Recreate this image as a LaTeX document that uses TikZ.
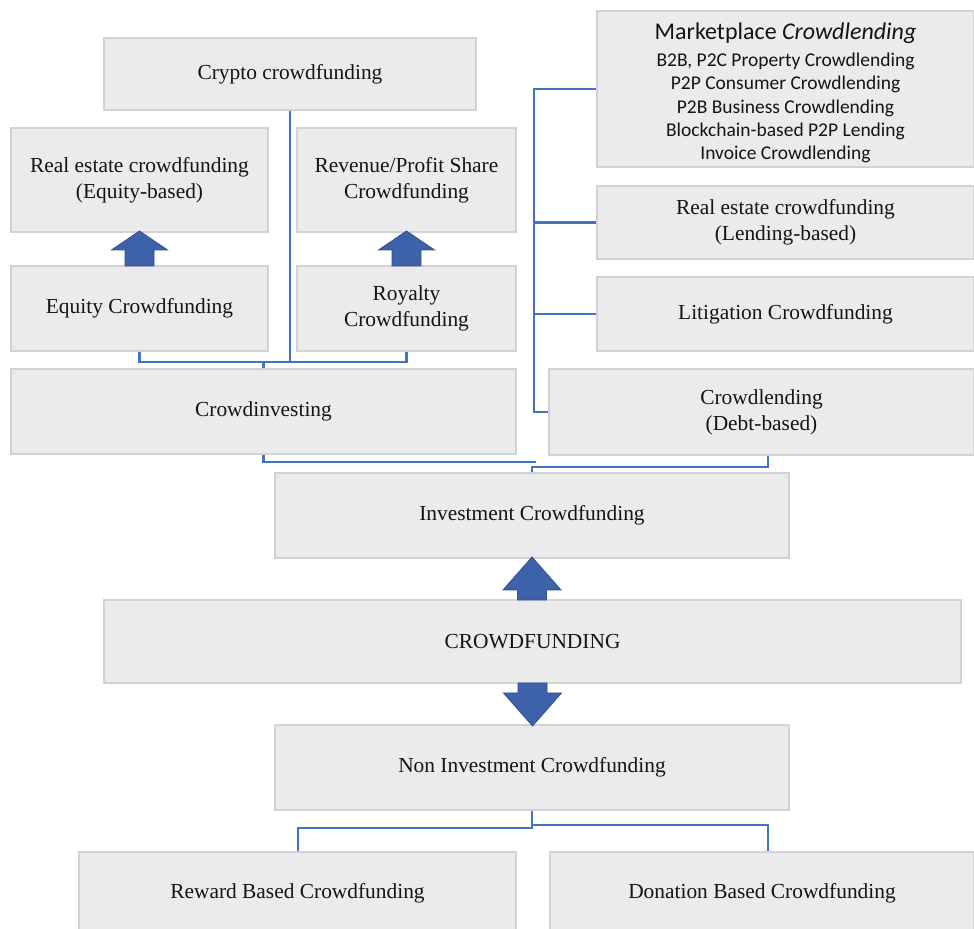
\documentclass[tikz,border=0pt]{standalone}
\usepackage{fontspec}
\setmainfont{Liberation Serif}
\newfontfamily\calibrifont{Carlito}
\definecolor{boxfill}{HTML}{EBEBEB}
\definecolor{boxline}{HTML}{D2D2D2}
\definecolor{connblue}{HTML}{4472C4}
\definecolor{arrfill}{HTML}{3D62AA}
\definecolor{arrline}{HTML}{2F528F}
\tikzset{
  cfbox/.style={draw=boxline, line width=0.8pt, fill=boxfill, align=center, inner sep=0pt,
    font=\fontsize{10.7}{13}\selectfont, text=black!92},
  conn/.style={draw=connblue, line width=1.1pt},
  arrowshape/.style={fill=arrfill, draw=arrline, line width=0.4pt},
}
% x, tip y, head-base y, stem-end y, head half width, stem half width
\newcommand{\cfblockarrow}[6]{%
  \filldraw[arrowshape] (#1,#2) -- (#1+#5,#3) -- (#1+#6,#3) -- (#1+#6,#4) -- (#1-#6,#4) -- (#1-#6,#3) -- (#1-#5,#3) -- cycle;}
\begin{document}
\begin{tikzpicture}[x=0.5pt,y=-0.5pt]
\useasboundingbox (0,0) rectangle (974,929);
\fill[white] (0,0) rectangle (974,929);

% left column
\node[cfbox, minimum width=186pt, minimum height=36pt] (crypto) at (290,74) {Crypto crowdfunding};
\node[cfbox, minimum width=128.5pt, minimum height=52pt] (reeq) at (139.5,180) {Real estate crowdfunding\\(Equity-based)};
\node[cfbox, minimum width=109.5pt, minimum height=52pt] (rev) at (406.5,180) {Revenue/Profit Share\\Crowdfunding};
\node[cfbox, minimum width=128.5pt, minimum height=42.5pt] (equity) at (139.5,308.5) {Equity Crowdfunding};
\node[cfbox, minimum width=109.5pt, minimum height=42.5pt] (royalty) at (406.5,308.5) {Royalty\\Crowdfunding};
\node[cfbox, minimum width=252.5pt, minimum height=42.5pt] (cinv) at (263.5,411.5) {Crowdinvesting};

% right column
\node[cfbox, minimum width=188.5pt, minimum height=78pt, font=\calibrifont\fontsize{9.75}{11.7}\selectfont] (market) at (785.5,89)
  {\rule{0pt}{12.5pt}{\fontsize{12}{14}\selectfont Marketplace \textit{Crowdlending}}\\[1.5pt]
   B2B, P2C Property Crowdlending\\P2P Consumer Crowdlending\\P2B Business Crowdlending\\
   Blockchain-based P2P Lending\\Invoice Crowdlending};
\node[cfbox, minimum width=188.5pt, minimum height=36.5pt] (relend) at (785.5,222.5) {Real estate crowdfunding\\(Lending-based)};
\node[cfbox, minimum width=188.5pt, minimum height=37pt] (litig) at (785.5,314) {Litigation Crowdfunding};
\node[cfbox, minimum width=212.5pt, minimum height=43pt] (clend) at (761.5,412) {Crowdlending\\(Debt-based)};

% centre column
\node[cfbox, minimum width=257pt, minimum height=42.5pt] (invest) at (532,515.5) {Investment Crowdfunding};
\node[cfbox, minimum width=428.5pt, minimum height=41.5pt] (crowd) at (532.5,641.5) {CROWDFUNDING};
\node[cfbox, minimum width=257pt, minimum height=42.5pt] (noninv) at (532,767.5) {Non Investment Crowdfunding};
\node[cfbox, minimum width=218.5pt, minimum height=41pt] (reward) at (297.5,893) {Reward Based Crowdfunding};
\node[cfbox, minimum width=212pt, minimum height=41pt] (donation) at (762,893) {Donation Based Crowdfunding};

% connectors: crowdinvesting group
\coordinate (busT) at (263.5,362);
\draw[conn] (crypto.south) -- (crypto.south |- busT);
\draw[conn] (equity.south) -- (equity.south |- busT) -- (royalty.south |- busT) -- (royalty.south);
\draw[conn] (cinv.north) -- (busT);

% connectors: crowdlending group
\coordinate (busR) at (534,89);
\draw[conn] (market.west) -- (busR) -- (busR |- clend.west) -- (clend.west);
\draw[conn] (relend.west) -- (relend.west -| busR);
\draw[conn] (litig.west) -- (litig.west -| busR);

% connectors: into investment crowdfunding
\coordinate (busA) at (536,462);
\coordinate (busB) at (768,467);
\draw[conn] (cinv.south) -- (cinv.south |- busA) -- (busA);
\draw[conn] (invest.north) -- (invest.north |- busB) -- (busB) -- (busB |- clend.south);

% connectors: non investment
\coordinate (busL) at (298,828);
\coordinate (busRr) at (768,825);
\draw[conn] (noninv.south) -- (noninv.south |- busL) -- (busL) -- (busL |- reward.north);
\draw[conn] (noninv.south |- busRr) -- (busRr) -- (busRr |- donation.north);

% block arrows
\cfblockarrow{139.5}{231}{250}{266}{28}{14.5}
\cfblockarrow{406.5}{231}{250}{266}{28}{14.5}
\cfblockarrow{532}{557}{590}{600}{29}{14.5}
\cfblockarrow{532.5}{726}{693}{683}{29}{14.5}
\end{tikzpicture}
\end{document}
